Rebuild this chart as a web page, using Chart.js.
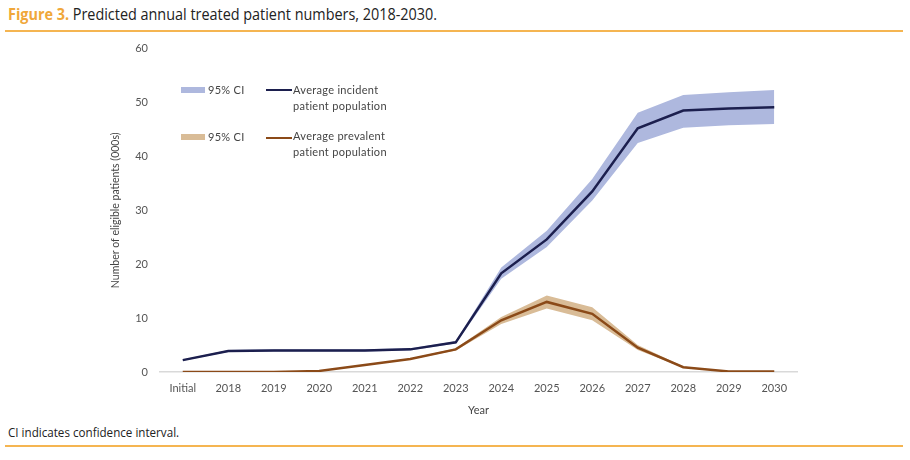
<!DOCTYPE html>
<html>
<head>
<meta charset="utf-8">
<script src="https://cdn.jsdelivr.net/npm/chart.js@4/dist/chart.umd.min.js"></script>
<style>
  body { margin: 0; background: #fff; width: 910px; height: 460px; position: relative; overflow: hidden; font-family: "Lato", "Open Sans", sans-serif; }
  .title { position: absolute; left: 8px; top: 3px; font-family: "Open Sans", sans-serif; font-size: 16px; color: #222; white-space: nowrap; transform: scaleX(0.9); transform-origin: left top; }
  .title b { color: #F0A73A; }
  .rule { position: absolute; left: 5px; width: 898px; height: 2px; background: #F5B551; }
  .note { position: absolute; left: 8px; top: 424px; font-family: "Open Sans", sans-serif; font-size: 12.5px; color: #222; white-space: nowrap; transform: scaleX(0.93); transform-origin: left top; }
  #wrap { position: absolute; left: 100px; top: 30px; width: 700px; height: 391px; }
  .lg { position: absolute; font-size: 11px; color: #444; letter-spacing: 0.3px; line-height: 16px; }
  .sw { position: absolute; width: 24px; height: 6px; }
  .ln { position: absolute; width: 26px; height: 2px; }
</style>
</head>
<body>
<div class="title"><b>Figure 3.</b> Predicted annual treated patient numbers, 2018-2030.</div>
<div class="rule" style="top:30px"></div>
<div id="wrap"><canvas id="c"></canvas></div>

<div class="sw" style="left:181px;top:87px;background:#AEB8DE"></div>
<div class="lg" style="left:208px;top:82px">95% CI</div>
<div class="ln" style="left:266px;top:89px;background:#1C1F4E"></div>
<div class="lg" style="left:293px;top:82px">Average incident<br>patient population</div>

<div class="sw" style="left:181px;top:134px;background:#D9BC97"></div>
<div class="lg" style="left:208px;top:129px">95% CI</div>
<div class="ln" style="left:266px;top:137px;background:#8B4A18"></div>
<div class="lg" style="left:293px;top:128px">Average prevalent<br>patient population</div>

<div class="note">CI indicates confidence interval.</div>
<div class="rule" style="top:445px"></div>

<script>
const years = ['Initial', '2018', '2019', '2020', '2021', '2022', '2023', '2024', '2025', '2026', '2027', '2028', '2029', '2030'];

const incident      = [2.2, 3.9, 4.0, 4.0, 4.0, 4.2, 5.5, 18.3, 24.6, 33.5, 45.2, 48.5, 48.9, 49.1];
const incidentLow   = [2.1, 3.7, 3.8, 3.8, 3.8, 4.0, 5.3, 17.3, 23.2, 31.8, 42.5, 45.3, 45.8, 46.0];
const incidentHigh  = [2.3, 4.1, 4.2, 4.2, 4.2, 4.4, 5.7, 19.4, 26.2, 35.8, 48.1, 51.4, 51.9, 52.3];

const prevalent     = [0, 0, 0, 0.2, 1.3, 2.4, 4.2, 9.6, 13.0, 10.8, 4.5, 0.9, 0.1, 0.1];
const prevalentLow  = [0, 0, 0, 0.1, 1.2, 2.3, 4.0, 8.9, 11.8, 9.6, 4.1, 0.8, 0.05, 0.05];
const prevalentHigh = [0, 0, 0, 0.3, 1.4, 2.5, 4.4, 10.2, 14.2, 12.0, 5.0, 1.0, 0.15, 0.15];

const yTicks = [0, 10, 20, 30, 40, 50, 60];

const tickFont = { family: 'Lato', size: 11 };

new Chart(document.getElementById('c'), {
  type: 'line',
  data: {
    labels: years,
    datasets: [
      { data: incident, borderColor: '#1C1F4E', borderWidth: 2.5, pointRadius: 0, fill: false, tension: 0, order: 0 },
      { data: prevalent, borderColor: '#8B4A18', borderWidth: 2.5, pointRadius: 0, fill: false, tension: 0, order: 0 },
      // CI bands
      { data: incidentHigh, borderWidth: 0, pointRadius: 0, backgroundColor: '#AEB8DE', fill: '+1', order: 1 },
      { data: incidentLow, borderWidth: 0, pointRadius: 0, fill: false, order: 1 },
      { data: prevalentHigh, borderWidth: 0, pointRadius: 0, backgroundColor: '#D9BC97', fill: '+1', order: 1 },
      { data: prevalentLow, borderWidth: 0, pointRadius: 0, fill: false, order: 1 }
    ]
  },
  options: {
    responsive: true,
    maintainAspectRatio: false,
    animation: false,
    layout: { padding: { top: 1, right: 3, left: 5, bottom: 0 } },
    plugins: { legend: { display: false }, tooltip: { enabled: false } },
    scales: {
      x: {
        offset: true,
        grid: { display: false, drawTicks: false },
        border: { color: '#D9D9D9', width: 1.5 },
        ticks: { color: '#555', font: tickFont, padding: 10, maxRotation: 0 },
        title: { display: true, text: 'Year', color: '#444', font: { family: 'Lato', size: 11 }, padding: { top: 4 } },
        afterFit: (s) => { s.height = 49; }
      },
      y: {
        min: 0, max: 60,
        afterBuildTicks: (s) => { s.ticks = yTicks.map(v => ({ value: v })); },
        grid: { display: false, drawTicks: false },
        border: { display: false },
        ticks: { color: '#555', font: tickFont, padding: 12 },
        title: { display: true, text: 'Number of eligible patients (000s)', color: '#444', font: { family: 'Lato', size: 10.5 } },
        afterFit: (s) => { s.width = 55; }
      }
    }
  }
});
</script>
</body>
</html>
